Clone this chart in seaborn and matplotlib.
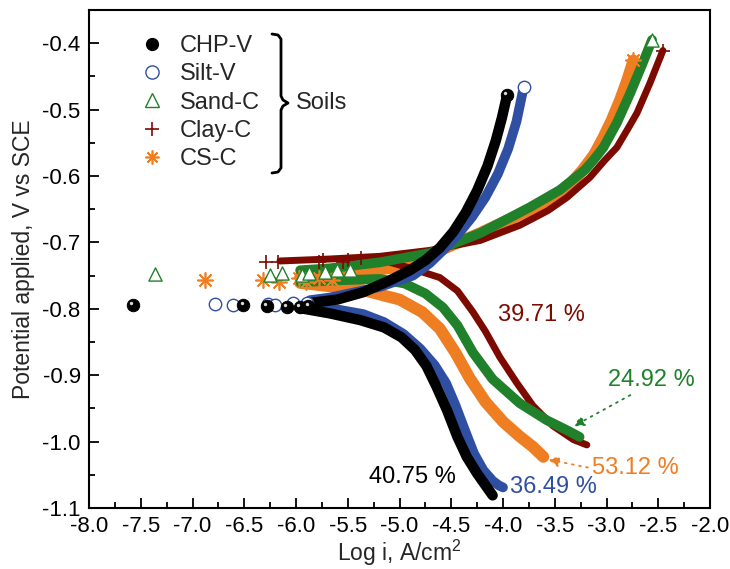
import numpy as np
import matplotlib
matplotlib.use("Agg")
import matplotlib.pyplot as plt
import matplotlib.transforms as mtransforms
from matplotlib.lines import Line2D
import seaborn as sns

# ---- data (log i in A/cm2, potential in V vs SCE) ----
labels = ["CHP-V", "Silt-V", "Sand-C", "Clay-C", "CS-C"]
colors = ["#000000", "#2f4fa3", "#21802a", "#7d0a00", "#ef7d22"]

# low-current points scattered around Ecorr
chp_low_x = [-7.575, -6.51, -6.28, -6.09, -5.96, -5.88]
chp_low_y = [-0.795, -0.794, -0.796, -0.797, -0.797, -0.796]
silt_low_x = [-6.78, -6.61, -6.27, -6.20, -6.03, -5.89]
silt_low_y = [-0.793, -0.795, -0.793, -0.795, -0.792, -0.792]
sand_low_x = [-7.36, -6.25, -6.14, -5.94, -5.87, -5.72, -5.60, -5.48]
sand_low_y = [-0.748, -0.749, -0.746, -0.749, -0.746, -0.745, -0.742, -0.742]
clay_low_x = [-6.29, -6.17, -5.78, -5.74, -5.55, -5.50, -5.37]
clay_low_y = [-0.729, -0.729, -0.729, -0.726, -0.729, -0.726, -0.723]
cs_low_x = [-6.88, -6.32, -6.16, -5.97, -5.90, -5.78, -5.65]
cs_low_y = [-0.757, -0.757, -0.760, -0.754, -0.760, -0.754, -0.757]

# anodic branches
chp_an_x = [-5.9, -5.6, -5.35, -5.09, -4.9, -4.75, -4.61, -4.48, -4.36, -4.25, -4.15, -4.07, -4.01, -3.96]
chp_an_y = [-0.792, -0.786, -0.775, -0.757, -0.742, -0.727, -0.708, -0.684, -0.655, -0.622, -0.585, -0.547, -0.512, -0.478]
silt_an_x = [-5.865, -5.67, -5.19, -4.87, -4.705, -4.56, -4.43, -4.30, -4.17, -4.05, -3.95, -3.87, -3.80]
silt_an_y = [-0.787, -0.783, -0.767, -0.750, -0.731, -0.709, -0.687, -0.662, -0.632, -0.597, -0.559, -0.518, -0.466]
sand_an_x = [-5.96, -5.67, -5.19, -4.705, -4.22, -3.74, -3.45, -3.21, -3.12, -3.03, -2.90, -2.77, -2.65, -2.56]
sand_an_y = [-0.742, -0.739, -0.730, -0.716, -0.686, -0.647, -0.621, -0.591, -0.575, -0.557, -0.520, -0.475, -0.430, -0.395]
clay_an_x = [-6.155, -5.67, -5.19, -4.705, -4.22, -3.835, -3.565, -3.38, -3.16, -3.015, -2.90, -2.79, -2.705, -2.58, -2.455]
clay_an_y = [-0.728, -0.725, -0.721, -0.712, -0.697, -0.674, -0.652, -0.632, -0.602, -0.576, -0.557, -0.528, -0.505, -0.460, -0.411]
cs_an_x = [-5.96, -5.67, -5.025, -4.61, -4.22, -3.835, -3.55, -3.38, -3.23, -3.12, -3.03, -2.95, -2.87, -2.80, -2.74]
cs_an_y = [-0.752, -0.752, -0.737, -0.712, -0.686, -0.658, -0.636, -0.617, -0.591, -0.568, -0.542, -0.516, -0.486, -0.456, -0.426]

# cathodic branches
chp_cat_x = [-5.96, -5.67, -5.38, -5.15, -4.98, -4.85, -4.74, -4.64, -4.54, -4.44, -4.35, -4.25, -4.155, -4.10]
chp_cat_y = [-0.799, -0.807, -0.817, -0.828, -0.843, -0.862, -0.886, -0.918, -0.953, -0.993, -1.023, -1.048, -1.069, -1.081]
silt_cat_x = [-5.865, -5.67, -5.35, -5.15, -4.96, -4.80, -4.66, -4.55, -4.46, -4.37, -4.28, -4.19, -4.10, -4.04, -4.0]
silt_cat_y = [-0.795, -0.799, -0.808, -0.820, -0.838, -0.860, -0.885, -0.912, -0.945, -0.982, -1.018, -1.043, -1.059, -1.066, -1.069]
sand_cat_x = [-5.96, -5.575, -5.19, -4.95, -4.75, -4.58, -4.44, -4.29, -4.10, -3.84, -3.575, -3.38, -3.26]
sand_cat_y = [-0.760, -0.757, -0.755, -0.762, -0.777, -0.798, -0.825, -0.866, -0.906, -0.942, -0.968, -0.983, -0.993]
clay_cat_x = [-5.09, -4.87, -4.61, -4.44, -4.29, -4.17, -4.03, -3.865, -3.71, -3.52, -3.32, -3.19]
clay_cat_y = [-0.730, -0.740, -0.753, -0.773, -0.805, -0.834, -0.873, -0.912, -0.946, -0.976, -0.997, -1.005]
cs_cat_x = [-5.96, -5.35, -5.0, -4.78, -4.61, -4.46, -4.32, -4.17, -4.0, -3.84, -3.71, -3.61]
cs_cat_y = [-0.761, -0.772, -0.786, -0.805, -0.830, -0.866, -0.905, -0.940, -0.970, -0.992, -1.008, -1.023]

efficiency = ["40.75 %", "36.49 %", "24.92 %", "39.71 %", "53.12 %"]

low = [(chp_low_x, chp_low_y), (silt_low_x, silt_low_y), (sand_low_x, sand_low_y),
       (clay_low_x, clay_low_y), (cs_low_x, cs_low_y)]
anodic = [(chp_an_x, chp_an_y), (silt_an_x, silt_an_y), (sand_an_x, sand_an_y),
          (clay_an_x, clay_an_y), (cs_an_x, cs_an_y)]
cathodic = [(chp_cat_x, chp_cat_y), (silt_cat_x, silt_cat_y), (sand_cat_x, sand_cat_y),
            (clay_cat_x, clay_cat_y), (cs_cat_x, cs_cat_y)]

markers = ["o", "o", "^", "+", (8, 2, 0)]
msizes = [80, 80, 90, 90, 120]
band_lw = [7.5, 7.0, 7.0, 5.0, 8.5]

sns.set_style("ticks")
plt.rcParams["font.family"] = ["Liberation Sans", "DejaVu Sans"]
plt.rcParams["mathtext.fontset"] = "custom"
plt.rcParams["mathtext.rm"] = "Liberation Sans"

fig = plt.figure(figsize=(7.3, 5.69), dpi=100)
ax = fig.add_axes([89 / 730, 1 - 508 / 569, 621 / 730, 498 / 569])


def draw_marks(x, y, i, zorder=3):
    m = markers[i]
    c = colors[i]
    if i == 0:
        sns.scatterplot(x=x, y=y, marker="o", s=msizes[i], color=c, edgecolor=c,
                        ax=ax, legend=False, zorder=zorder)
    elif m in ("o", "^"):
        ax.scatter(x, y, marker=m, s=msizes[i], facecolors="white", edgecolors=c,
                   linewidths=1.0, zorder=zorder)
    else:
        sns.scatterplot(x=x, y=y, marker=m, s=msizes[i], color=c, linewidth=1.2,
                        ax=ax, legend=False, zorder=zorder)


draw_order = [4, 3, 2, 1, 0]
for i in draw_order:
    for bx, by in (anodic[i], cathodic[i]):
        sns.lineplot(x=bx, y=by, sort=False, color=colors[i], lw=band_lw[i],
                     ax=ax, legend=False, zorder=2 + (4 - i) * 0.1,
                     solid_capstyle="round", solid_joinstyle="round")
for i in draw_order:
    lx, ly = low[i]
    draw_marks(lx, ly, i, zorder=4)
    # end markers of each branch
    draw_marks([anodic[i][0][-1]], [anodic[i][1][-1]], i, zorder=4)

# highlights on black balls
hl = mtransforms.offset_copy(ax.transData, fig=fig, x=-1.2, y=1.5, units="points")
ax.scatter(chp_low_x + [chp_an_x[-1]], chp_low_y + [chp_an_y[-1]], s=6,
           color="#d8d8d8", zorder=5, transform=hl, linewidths=0)

ax.set_xlim(-8.0, -2.0)
ax.set_ylim(-1.1, -0.35)
xt = np.arange(-8.0, -1.99, 0.5)
ax.set_xticks(xt)
ax.set_xticklabels([f"{v:.1f}" for v in xt])
ax.set_xticks(np.arange(-8.0, -1.99, 0.25), minor=True)
yt = np.arange(-1.1, -0.39, 0.1)
ax.set_yticks(yt)
ax.set_yticklabels([f"{v:.1f}" for v in yt])
ax.set_yticks(np.arange(-1.1, -0.34, 0.05), minor=True)
ax.tick_params(which="both", direction="in", top=False, right=False,
               labelsize=16, width=1.3, colors="black")
ax.tick_params(which="major", length=7, pad=6)
ax.tick_params(which="minor", length=4)
for s in ax.spines.values():
    s.set_linewidth(1.5)
    s.set_color("black")

ax.set_xlabel("Log i, A/cm$^2$", fontsize=16.5, labelpad=0)
ax.set_ylabel("Potential applied, V vs SCE", fontsize=16.5, labelpad=5)

# legend
handles = []
for i, lab in enumerate(labels):
    m = markers[i]
    if i == 0:
        h = Line2D([], [], ls="none", marker="o", ms=8.5, color=colors[i])
    elif m in ("o", "^"):
        h = Line2D([], [], ls="none", marker=m, ms=9.5, mfc="white", mec=colors[i], mew=1.0)
    else:
        h = Line2D([], [], ls="none", marker=m, ms=10, color=colors[i], mew=1.2)
    handles.append(h)
ax.legend(handles, labels, loc="upper left", bbox_to_anchor=(0.082, 0.95),
          frameon=False, fontsize=17, handlelength=1.0, handletextpad=0.7,
          labelspacing=0.27, borderpad=0, borderaxespad=0)

# curly bracket and "Soils"
def px2ax(px, py):
    return (px - 89) / 621, (508 - py) / 498

brace_px = [(272, 34), (278, 35), (281, 39), (281, 96), (283, 100), (288, 103),
            (283, 106), (281, 110), (281, 168), (278, 172), (272, 173)]
bx = [px2ax(*p)[0] for p in brace_px]
by = [px2ax(*p)[1] for p in brace_px]
ax.plot(bx, by, color="black", lw=2.0, transform=ax.transAxes, clip_on=False)
sx, sy = px2ax(296, 103)
ax.text(sx, sy, "Soils", transform=ax.transAxes, fontsize=17, va="center", ha="left")

# efficiency annotations
ax.text(-4.46, -1.054, efficiency[0], color=colors[0], fontsize=17, ha="right", va="center")
ax.text(-3.93, -1.069, efficiency[1], color=colors[1], fontsize=17, ha="left", va="center")
ax.text(-4.05, -0.81, efficiency[3], color=colors[3], fontsize=17, ha="left", va="center")
ax.text(-2.985, -0.9075, efficiency[2], color=colors[2], fontsize=17, ha="left", va="center")
ax.text(-3.14, -1.04, efficiency[4], color=colors[4], fontsize=17, ha="left", va="center")
ax.annotate("", xy=(-3.32, -0.977), xytext=(-2.77, -0.93),
            arrowprops=dict(arrowstyle="-|>", color=colors[2], ls=(0, (1, 3)),
                            lw=1.3, mutation_scale=16, shrinkA=0, shrinkB=0))
ax.annotate("", xy=(-3.565, -1.027), xytext=(-3.18, -1.039),
            arrowprops=dict(arrowstyle="-|>", color=colors[4], ls=(0, (1, 3)),
                            lw=1.3, mutation_scale=16, shrinkA=0, shrinkB=0))

fig.savefig("out.png", dpi=100)
